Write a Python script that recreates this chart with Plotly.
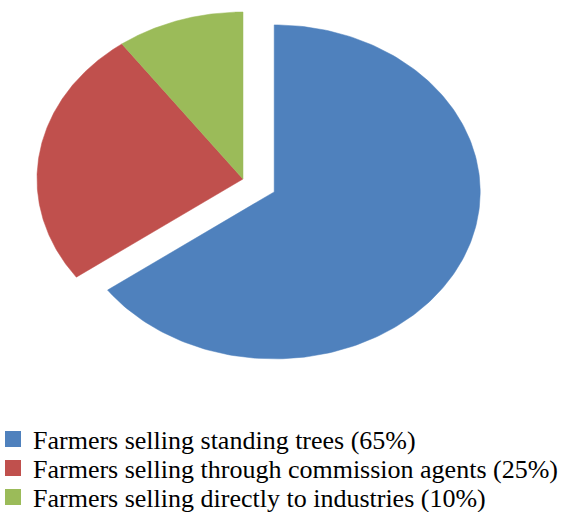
import numpy as np
import plotly.graph_objects as go

labels = ["Farmers selling standing trees (65%)",
          "Farmers selling through commission agents (25%)",
          "Farmers selling directly to industries (10%)"]
values = [65, 25, 10]
colors = ["#4F81BD", "#C0504D", "#9BBB59"]
pulls = [0.17, 0.0, 0.0]

W, H = 573, 512
cx, cy = 243, 179      # pie centre (pixel space)
rx, ry = 206, 167      # elliptical (tilted) pie radii
legend_rows = [439, 468, 497]   # vertical centre of each legend row (px)

fig = go.Figure()
total = float(sum(values))
start = 0.0
for lab, v, col, p in zip(labels, values, colors, pulls):
    frac = v / total
    a0, a1 = start * 2 * np.pi, (start + frac) * 2 * np.pi
    am = (a0 + a1) / 2
    ox = p * rx * np.sin(am)
    oy = -p * ry * np.cos(am)
    t = np.linspace(a0, a1, 200)
    xs = np.concatenate([[cx + ox], cx + ox + rx * np.sin(t), [cx + ox]])
    ys = np.concatenate([[cy + oy], cy + oy - ry * np.cos(t), [cy + oy]])
    fig.add_trace(go.Scatter(x=xs, y=ys, fill="toself", fillcolor=col,
                             mode="lines", line=dict(width=0.5, color=col),
                             hoverinfo="text", text=lab, showlegend=False))
    start += frac

legend_font = dict(family="'Liberation Serif', 'Times New Roman', serif",
                   size=26, color="black")
layout_legends = {}
for i, (lab, col, row) in enumerate(zip(labels, colors, legend_rows)):
    key = "legend" if i == 0 else f"legend{i + 1}"
    fig.add_trace(go.Scatter(x=[None], y=[None], mode="markers", name=lab,
                             legend=key,
                             marker=dict(symbol="square", size=16, color=col)))
    layout_legends[key] = dict(x=-7 / W, y=1 - row / H, xanchor="left",
                               yanchor="middle", font=legend_font,
                               bgcolor="rgba(0,0,0,0)", borderwidth=0)

fig.update_layout(
    width=W, height=H,
    margin=dict(l=0, r=0, t=0, b=0, autoexpand=False),
    paper_bgcolor="white", plot_bgcolor="white",
    xaxis=dict(range=[0, W], visible=False, fixedrange=True),
    yaxis=dict(range=[H, 0], visible=False, fixedrange=True),
    showlegend=True,
    **layout_legends,
)

fig.write_html("out.html")
